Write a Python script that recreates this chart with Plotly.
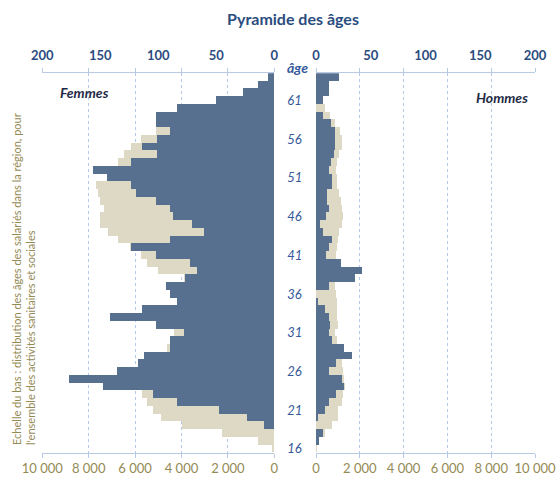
import plotly.graph_objects as go

# ---------------- data ----------------
ages = list(range(16, 65))
age_ticks = [16, 21, 26, 31, 36, 41, 46, 51, 56, 61]

# values listed from age 64 down to age 16
femmes_etab_desc = [5, 14, 27, 50, 84, 102, 102, 90, 101, 114, 101, 123, 156, 144, 123, 119,
                    102, 90, 87, 71, 60, 90, 123, 102, 72, 66, 77, 93, 90, 84, 114, 141,
                    102, 78, 90, 90, 112, 117, 135, 177, 147, 104, 84, 47, 23, 9, 0, 0, 0]
femmes_region_desc = [200, 600, 1200, 2200, 3300, 4300, 4800, 5070, 5720, 6150, 6450, 6720, 6870,
                      7100, 7660, 7590, 7520, 7340, 7490, 7490, 7160, 6720, 6220, 5720, 5490,
                      5000, 3900, 3950, 4000, 4050, 4100, 4200, 4250, 4330, 4450, 4600, 4800,
                      5000, 5200, 5400, 5600, 5690, 5460, 5220, 4890, 3950, 2230, 690, 70]
hommes_etab_desc = [21, 12, 12, 6, 0, 6, 14, 17, 17, 17, 16, 14, 12, 15, 15, 10, 10, 12, 9, 4,
                    6, 15, 12, 9, 23, 42, 36, 12, 0, 2, 8, 12, 13, 12, 15, 26, 33, 18, 12, 24,
                    26, 18, 12, 8, 1, 0, 6, 3, 0]
hommes_region_desc = [50, 100, 200, 300, 410, 640, 870, 1100, 1170, 1170, 1070, 970, 910, 940,
                      970, 1070, 1130, 1170, 1220, 1170, 1070, 1020, 970, 910, 880, 870, 860,
                      870, 910, 940, 970, 970, 1000, 870, 940, 1050, 1100, 1170, 1250, 1290,
                      1320, 1250, 1170, 1020, 1000, 720, 400, 110, 30]

femmes_etab = femmes_etab_desc[::-1]
femmes_region = femmes_region_desc[::-1]
hommes_etab = hommes_etab_desc[::-1]
hommes_region = hommes_region_desc[::-1]

bottom_ticks = [0, 2000, 4000, 6000, 8000, 10000]
bottom_labels = ["0", "2 000", "4 000", "6 000", "8 000", "10 000"]
top_ticks = [0, 50, 100, 150, 200]

# ---------------- style ----------------
W, H = 557, 480
FONT = "Lato"
BLUE = "#57708F"
BEIGE = "#DDD9C4"
NAVY = "#2B4C7E"
OLIVE = "#948A54"
AGE_BLUE = "#35599A"
GRID = "#B4C7E7"
LINE = "#B9CBE4"

xL = [42.3 / W, 274.3 / W]
xR = [316 / W, 535 / W]
yD = [1 - 452.7 / H, 1 - 73.3 / H]

fig = go.Figure()
fig.add_trace(go.Bar(y=ages, x=femmes_region, orientation="h", xaxis="x", yaxis="y",
                     marker=dict(color=BEIGE, line=dict(width=0)), width=1, name="Région F"))
fig.add_trace(go.Bar(y=ages, x=femmes_etab, orientation="h", xaxis="x3", yaxis="y",
                     marker=dict(color=BLUE, line=dict(width=0)), width=1, name="Femmes"))
fig.add_trace(go.Bar(y=ages, x=hommes_region, orientation="h", xaxis="x2", yaxis="y2",
                     marker=dict(color=BEIGE, line=dict(width=0)), width=1, name="Région H"))
fig.add_trace(go.Bar(y=ages, x=hommes_etab, orientation="h", xaxis="x4", yaxis="y2",
                     marker=dict(color=BLUE, line=dict(width=0)), width=1, name="Hommes"))

bottom_axis = dict(tickvals=bottom_ticks, ticktext=bottom_labels, showgrid=True, gridcolor=GRID,
                   griddash="dot", gridwidth=1, showline=True, linecolor=LINE, linewidth=1,
                   mirror="ticks", ticks="outside", ticklen=4, tickcolor=LINE, zeroline=False,
                   automargin=False,
                   tickfont=dict(family=FONT, size=13, color=OLIVE), fixedrange=True)
top_axis = dict(side="top", tickvals=top_ticks, showgrid=False, ticks="", showline=False,
                zeroline=False, ticklabelstandoff=10, automargin=False,
                tickfont=dict(family=FONT, size=13, color=NAVY, weight="bold"), fixedrange=True)

fig.update_layout(
    width=W, height=H,
    margin=dict(l=0, r=0, t=0, b=0),
    paper_bgcolor="white", plot_bgcolor="white",
    showlegend=False, barmode="overlay", bargap=0,
    font=dict(family=FONT),
    title=dict(text="<b>Pyramide des âges</b>", x=293 / W, y=1 - 19 / H, xanchor="center",
               yanchor="middle", font=dict(family=FONT, size=16, color=NAVY)),
    xaxis=dict(domain=xL, range=[10000, 0], anchor="y", **bottom_axis),
    xaxis2=dict(domain=xR, range=[0, 10000], anchor="y2", **bottom_axis),
    xaxis3=dict(overlaying="x", anchor="y", range=[200, 0], **top_axis),
    xaxis4=dict(overlaying="x2", anchor="y2", range=[0, 200], **top_axis),
    yaxis=dict(domain=yD, range=[15.5, 64.5], anchor="x", side="right", tickvals=age_ticks,
               ticks="", showgrid=False, zeroline=False, showline=False, ticklabelstandoff=12,
               automargin=False,
               tickfont=dict(family=FONT, size=13, color=AGE_BLUE, style="italic"), fixedrange=True),
    yaxis2=dict(domain=yD, range=[15.5, 64.5], anchor="x2", showticklabels=False, ticks="",
                showgrid=False, zeroline=False, showline=False, automargin=False, fixedrange=True),
    annotations=[
        dict(text="<b><i>âge</i></b>", x=297 / W, y=1 - 68 / H, xref="paper", yref="paper",
             showarrow=False, xanchor="center", yanchor="middle",
             font=dict(family=FONT, size=14, color=AGE_BLUE)),
        dict(text="<b><i>Femmes</i></b>", x=58 / W, y=1 - 92 / H, xref="paper", yref="paper",
             showarrow=False, xanchor="left", yanchor="middle",
             font=dict(family=FONT, size=14, color="#1F2B45")),
        dict(text="<b><i>Hommes</i></b>", x=530 / W, y=1 - 98 / H, xref="paper", yref="paper",
             showarrow=False, xanchor="right", yanchor="middle",
             font=dict(family=FONT, size=14, color="#1F2B45")),
        dict(text="Echelle du bas : distribution des âges des salariés dans la région, pour<br>"
                  "l'ensemble des activités sanitaires et sociales",
             x=23 / W, y=1 - 447 / H, xref="paper", yref="paper", showarrow=False,
             textangle=-90, xanchor="center", yanchor="bottom", align="left",
             font=dict(family=FONT, size=11, color=OLIVE)),
    ],
)

fig.write_html("out.html", config={"displayModeBar": False},
               post_script="document.body.style.margin='0';document.body.style.overflow='hidden';")
